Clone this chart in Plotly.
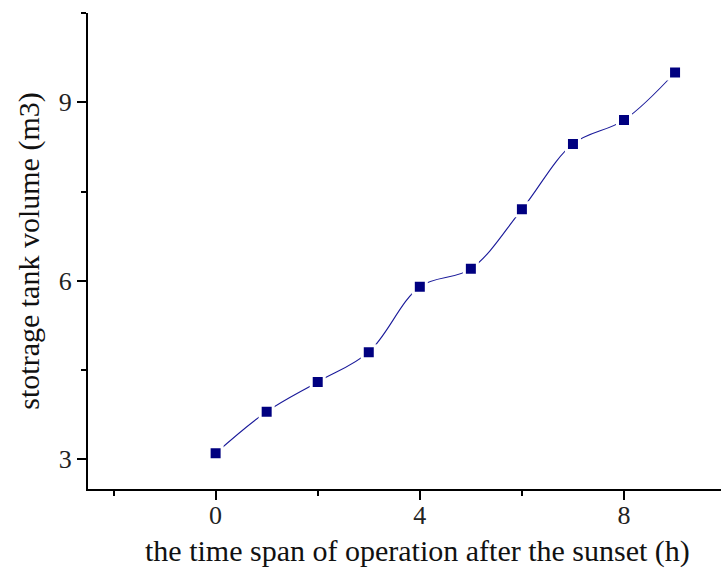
import plotly.graph_objects as go

hours = [0, 1, 2, 3, 4, 5, 6, 7, 8, 9]
volume = [3.1, 3.8, 4.3, 4.8, 5.9, 6.2, 7.2, 8.3, 8.7, 9.5]
x_ticks = [0, 4, 8]
y_ticks = [3, 6, 9]

navy = "#000080"
font = "Liberation Serif, Times New Roman, serif"

fig = go.Figure()
fig.add_trace(go.Scatter(
    x=hours, y=volume, mode="lines",
    line=dict(color="#1a1a9a", width=1.1, shape="spline", smoothing=1.0),
    hoverinfo="skip", showlegend=False))
fig.add_trace(go.Scatter(
    x=hours, y=volume, mode="markers",
    marker=dict(symbol="square", size=13, color=navy,
                line=dict(color="white", width=3)),
    showlegend=False))

axis_common = dict(
    showgrid=False, zeroline=False, showline=True, linecolor="black",
    linewidth=2, ticks="outside", ticklen=9, tickwidth=2, tickcolor="black",
    tickfont=dict(family=font, size=26, color="#222"), automargin=False,
)
fig.update_xaxes(
    range=[-2.5, 9.9], tickmode="array", tickvals=x_ticks,
    ticktext=[str(v) for v in x_ticks],
    minor=dict(tickmode="array", tickvals=[-2, 2, 6, 10], ticks="outside",
               ticklen=5, tickwidth=2, tickcolor="black"),
    ticklabelstandoff=-7,
    **axis_common)
fig.update_yaxes(
    range=[2.5, 10.5], tickmode="array", tickvals=y_ticks,
    ticktext=[str(v) for v in y_ticks],
    minor=dict(tickmode="array", tickvals=[4.5, 7.5, 10.5], ticks="outside",
               ticklen=5, tickwidth=2, tickcolor="black"),
    title=dict(text="stotrage tank volume (m3)",
               font=dict(family=font, size=30, color="#111"), standoff=10),
    **axis_common)

fig.add_annotation(
    text="the time span of operation after the sunset (h)",
    xref="paper", yref="paper", x=0.52, y=-0.131,
    xanchor="center", yanchor="middle", showarrow=False,
    font=dict(family=font, size=30, color="#111"))

fig.update_layout(
    width=721, height=576,
    margin=dict(l=88, r=0, t=13, b=87),
    plot_bgcolor="white", paper_bgcolor="white",
)
fig.write_html("out.html", config={"displayModeBar": False},
               post_script="document.body.style.margin='0';")
